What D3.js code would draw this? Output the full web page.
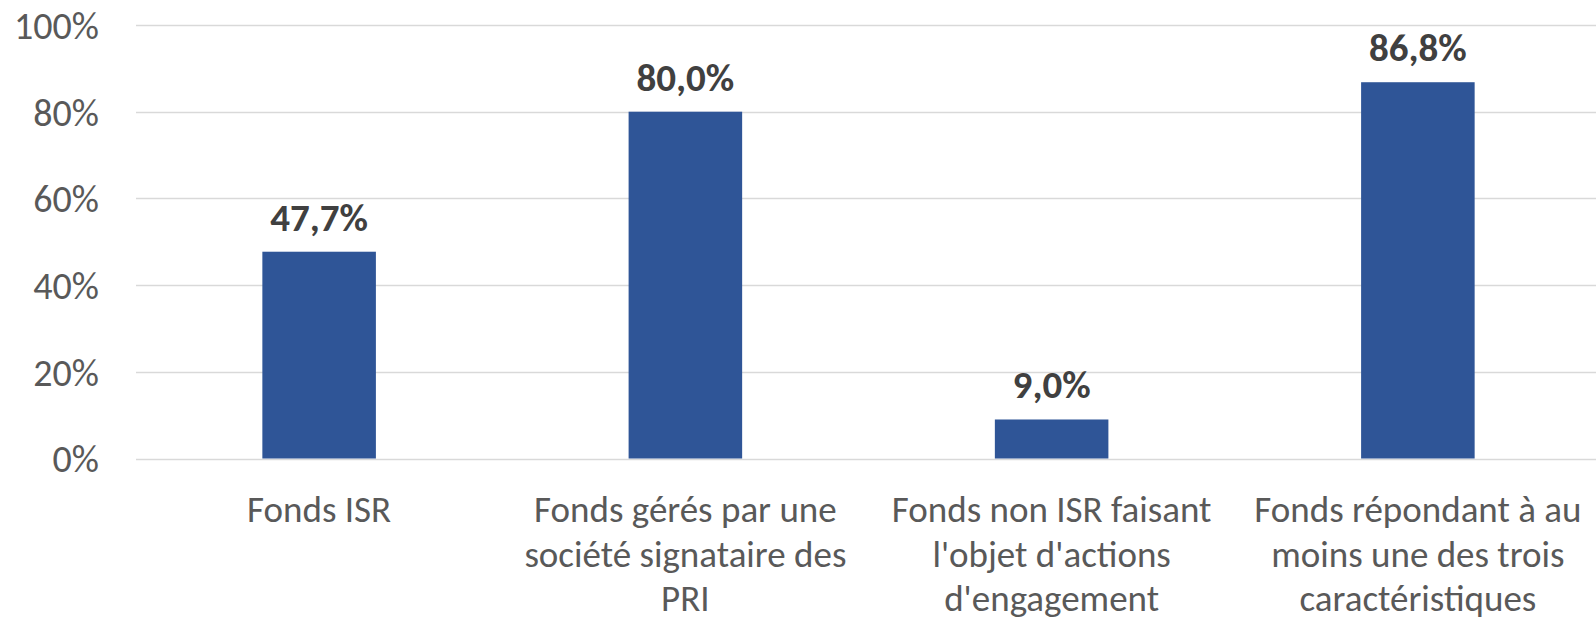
<!DOCTYPE html>
<html>
<head>
<meta charset="utf-8">
<script src="https://cdnjs.cloudflare.com/ajax/libs/d3/7.8.5/d3.min.js"></script>
<style>
  html, body { margin: 0; padding: 0; background: #fff; }
  svg text { font-family: Carlito, Lato, "Liberation Sans", sans-serif; }
</style>
</head>
<body>
<svg id="chart" width="1596" height="618"></svg>
<script>
// categories (line breaks as in the original chart)
var categories = [
  "Fonds ISR",
  "Fonds gérés par une\nsociété signataire des\nPRI",
  "Fonds non ISR faisant\nl'objet d'actions\nd'engagement",
  "Fonds répondant à au\nmoins une des trois\ncaractéristiques"
];
var values = [47.7, 80.0, 9.0, 86.8];
var yTicks = [0, 20, 40, 60, 80, 100];

var svg = d3.select("#chart"),
    width = +svg.attr("width"),
    height = +svg.attr("height");

var margin = {left: 136, right: -5, top: 25, bottom: 159.5};

var x = d3.scaleBand()
  .domain(categories)
  .range([margin.left, width - margin.right])
  .paddingInner(0.69)
  .paddingOuter(0.345);

var y = d3.scaleLinear()
  .domain([0, 100])
  .range([height - margin.bottom, margin.top]);

// gridlines
svg.append("g")
  .attr("class", "grid")
  .selectAll("line")
  .data(yTicks)
  .enter().append("line")
  .attr("x1", margin.left)
  .attr("x2", width - margin.right)
  .attr("y1", function(d) { return Math.round(y(d)) + 0.5; })
  .attr("y2", function(d) { return Math.round(y(d)) + 0.5; })
  .attr("stroke", "#d9d9d9")
  .attr("stroke-width", 1.5);

// y axis labels
var yAxis = d3.axisLeft(y)
  .tickValues(yTicks)
  .tickSize(0)
  .tickPadding(0)
  .tickFormat(function(d) { return d + "%"; });

var gy = svg.append("g")
  .attr("transform", "translate(99,0)")
  .call(yAxis);
gy.select(".domain").remove();
gy.selectAll("text")
  .attr("fill", "#595959")
  .style("font-size", "38px")
  .attr("dy", "0.35em");

// bars
svg.append("g")
  .selectAll("rect")
  .data(values)
  .enter().append("rect")
  .attr("x", function(d, i) { return x(categories[i]); })
  .attr("width", x.bandwidth())
  .attr("y", function(d) { return y(d); })
  .attr("height", function(d) { return y(0) - y(d); })
  .attr("fill", "#2f5597");

// data labels
svg.append("g")
  .selectAll("text")
  .data(values)
  .enter().append("text")
  .attr("x", function(d, i) { return x(categories[i]) + x.bandwidth() / 2; })
  .attr("y", function(d) { return y(d) - 21; })
  .attr("text-anchor", "middle")
  .attr("fill", "#404040")
  .style("font-size", "39px")
  .style("font-weight", "bold")
  .text(function(d) { return d.toFixed(1).replace(".", ",") + "%"; });

// category labels
var xl = svg.append("g")
  .selectAll("text")
  .data(categories)
  .enter().append("text")
  .attr("x", function(d) { return x(d) + x.bandwidth() / 2; })
  .attr("y", 522)
  .attr("text-anchor", "middle")
  .attr("fill", "#595959")
  .style("font-size", "37px");

xl.selectAll("tspan")
  .data(function(d) { return d.split("\n"); })
  .enter().append("tspan")
  .attr("x", function() { return d3.select(this.parentNode).attr("x"); })
  .attr("dy", function(d, i) { return i === 0 ? 0 : 44.5; })
  .text(function(d) { return d; });
</script>
</body>
</html>
